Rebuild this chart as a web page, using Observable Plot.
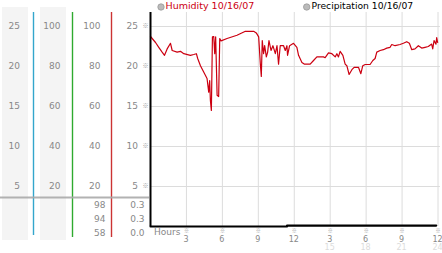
<!DOCTYPE html>
<html><head><meta charset="utf-8">
<script src="https://cdn.jsdelivr.net/npm/d3@7"></script>
<script src="https://cdn.jsdelivr.net/npm/@observablehq/plot@0.6"></script>
<style>body{margin:0;background:#fff}</style>
</head><body><div id="chart"></div>
<script>
// ---- data ----
const hours = [0,0.42,0.69,0.97,1.17,1.39,1.67,1.81,2.22,2.5,2.78,3.33,3.61,3.83,3.94,4.17,4.44,4.72,4.86,4.94,5.0,5.08,5.17,5.28,5.36,5.44,5.56,5.69,5.78,5.89,6.39,7.22,7.92,8.61,8.83,9.03,9.17,9.25,9.33,9.44,9.53,9.67,9.78,9.89,10.06,10.22,10.42,10.56,10.69,10.83,11.11,11.25,11.39,11.44,11.61,11.94,12.22,12.36,12.64,12.83,13.33,13.61,13.89,14.44,14.58,14.86,15.14,15.42,15.56,15.69,15.83,16.06,16.25,16.39,16.58,16.81,17.0,17.36,17.56,17.72,17.92,18.33,18.56,18.75,18.89,19.17,19.44,19.72,20.0,20.14,20.42,20.83,21.11,21.39,21.61,21.81,22.08,22.36,22.64,22.92,23.19,23.47,23.56,23.67,23.83,23.89,23.97];
const humidity = [23.75,23.0,22.4,21.8,21.4,22.2,22.9,22.0,21.8,21.9,21.6,21.4,21.5,21.6,21.0,20.1,19.3,18.5,16.8,18.25,15.75,14.5,23.7,23.75,21.6,23.7,16.4,16.25,23.5,23.2,23.5,23.9,24.4,24.4,24.2,23.7,20.3,18.75,23.25,21.6,22.6,21.2,21.8,23.25,22.0,22.6,21.6,22.6,20.3,22.6,22.6,22.0,22.6,21.4,22.6,22.9,22.4,21.4,20.5,20.3,20.3,20.75,21.2,21.2,21.1,21.7,21.6,21.2,21.6,21.2,21.9,21.4,20.3,20.1,19.0,19.6,19.9,19.9,19.1,20.1,20.25,20.25,20.75,21.0,21.8,22.0,22.1,22.3,22.4,22.75,22.6,22.75,22.9,23.1,22.9,22.1,22.2,22.6,22.3,22.4,22.5,22.8,22.2,23.25,22.8,23.6,23.0];
const precipHours = [0, 11.4, 11.4, 23.85];
const precip = [0, 0, 0.12, 0.12];
const yTicks = [5,10,15,20,25];
const col1Labels = [5,10,15,20,25];
const col2Labels = [20,40,60,80,100];
const col3Labels = [20,40,60,80,100];
const col4Labels = [5,10,15,20,25];
const col3Stats = ["98","94","58"];
const col4Stats = ["0.3","0.3","0.0"];
const xTicks = [3,6,9,12,15,18,21,24];
const xLabelsTop = ["3","6","9","12","3","6","9","12"];
const xLabelsBottom = ["","","","","15","18","21","24"];
const legendNames = ["Humidity 10/16/07","Precipitation 10/16/07"];

const font = '"DejaVu Sans", Verdana, sans-serif';
const glyphFont = '"Noto Sans CJK JP", sans-serif';
const humRows = hours.map((h,i)=>({h, v: humidity[i]}));
const preRows = precipHours.map((h,i)=>({h, v: precip[i]}));

const marks = [
  Plot.ruleY(yTicks, {y: d=>d, x1: 0, x2: 24.2, stroke: "#dcdcdc"}),
  Plot.ruleX(xTicks, {x: d=>d, y1: 0, y2: 26.75, stroke: "#dcdcdc"}),
  Plot.line(humRows, {x: "h", y: "v", stroke: "#cc0011", strokeWidth: 1.2}),
  Plot.line(preRows, {x: "h", y: "v", stroke: "#000", strokeWidth: 2.2}),
  Plot.ruleX([0], {y1: 0, y2: 26.75, stroke: "#000", strokeWidth: 2}),
  // y tick glyphs
  Plot.text(yTicks, {x: 0, y: d=>d, text: ()=>"※", dx: -5, fontSize: 6, fill: "#999", fontFamily: glyphFont}),
  // left columns
  Plot.text(col1Labels, {x: 0, y: d=>d, text: d=>String(d), dx: -130.5, textAnchor: "end", fill: "#888"}),
  Plot.text(col2Labels, {x: 0, y: d=>d/4, text: d=>String(d), dx: -90, textAnchor: "end", fill: "#888"}),
  Plot.text(col3Labels, {x: 0, y: d=>d/4, text: d=>String(d), dx: -50, textAnchor: "end", fill: "#888"}),
  Plot.text(col4Labels, {x: 0, y: d=>d, text: d=>String(d), dx: -12.5, textAnchor: "end", fill: "#888"}),
  ...col3Stats.map((s,i)=>Plot.text([s], {x: 0, y: 0, text: d=>d, dx: -45, dy: -21.7 + 14*i, textAnchor: "end", fill: "#888"})),
  ...col4Stats.map((s,i)=>Plot.text([s], {x: 0, y: 0, text: d=>d, dx: -6, dy: -21.7 + 14*i, textAnchor: "end", fill: "#888"})),
  // x axis
  Plot.text(xTicks, {x: d=>d, y: 0, text: ()=>"※", dy: 3.8, fontSize: 5, fill: "#999", fontFamily: glyphFont}),
  Plot.text(xTicks, {x: d=>d, y: 0, text: (d,i)=>xLabelsTop[i], dy: 12.5, dx: -0.5, fontSize: 8, fill: "#888"}),
  Plot.text(xTicks, {x: d=>d, y: 0, text: (d,i)=>xLabelsBottom[i], dy: 21.3, dx: -0.5, fontSize: 8, fill: "#dcdcdc"}),
  Plot.text(["Hours"], {x: 0, y: 0, text: d=>d, dx: 3.5, dy: 6, textAnchor: "start", fill: "#888"}),
  // legend
  Plot.text([legendNames[0]], {frameAnchor: "top-left", text: d=>d, dx: 165, dy: 2, textAnchor: "start", lineAnchor: "top", fill: "#cc0011", fontSize: 9.5}),
  Plot.text([legendNames[1]], {frameAnchor: "top-left", text: d=>d, dx: 311, dy: 2, textAnchor: "start", lineAnchor: "top", fill: "#000", fontSize: 9.2})
];

const fig = Plot.plot({
  width: 442, height: 253, margin: 0,
  style: {fontFamily: font, fontSize: "9px", background: "#fff", overflow: "visible"},
  x: {domain: [0, 24], range: [150, 437.5], axis: null},
  y: {domain: [0, 25], range: [226, 26], axis: null},
  marks
});

// decorations of the left panel
const svg = d3.select(fig);
const deco = svg.insert("g", "g");
deco.append("rect").attr("x", 2).attr("y", 7).attr("width", 26).attr("height", 233).attr("fill", "#f4f4f4");
deco.append("rect").attr("x", 40).attr("y", 7).attr("width", 26).attr("height", 233).attr("fill", "#f4f4f4");
deco.append("line").attr("x1", 33.5).attr("x2", 33.5).attr("y1", 12).attr("y2", 235).attr("stroke", "#33a6cc").attr("stroke-width", 1.4);
deco.append("line").attr("x1", 72.5).attr("x2", 72.5).attr("y1", 12).attr("y2", 237).attr("stroke", "#2faa2f").attr("stroke-width", 1.4);
deco.append("line").attr("x1", 111.5).attr("x2", 111.5).attr("y1", 12).attr("y2", 237).attr("stroke", "#cc3333").attr("stroke-width", 1.4);
svg.append("line").attr("x1", 0).attr("x2", 149).attr("y1", 197.5).attr("y2", 197.5).attr("stroke", "#aaa").attr("stroke-width", 2).attr("opacity", 0.9);
// legend dots
[[161, 7], [306.7, 7]].forEach(([cx, cy]) => {
  svg.append("circle").attr("cx", cx).attr("cy", cy).attr("r", 3.2).attr("fill", "#bbb").attr("stroke", "#999").attr("stroke-width", 0.8);
});

document.getElementById("chart").appendChild(fig);
</script>
</body></html>
